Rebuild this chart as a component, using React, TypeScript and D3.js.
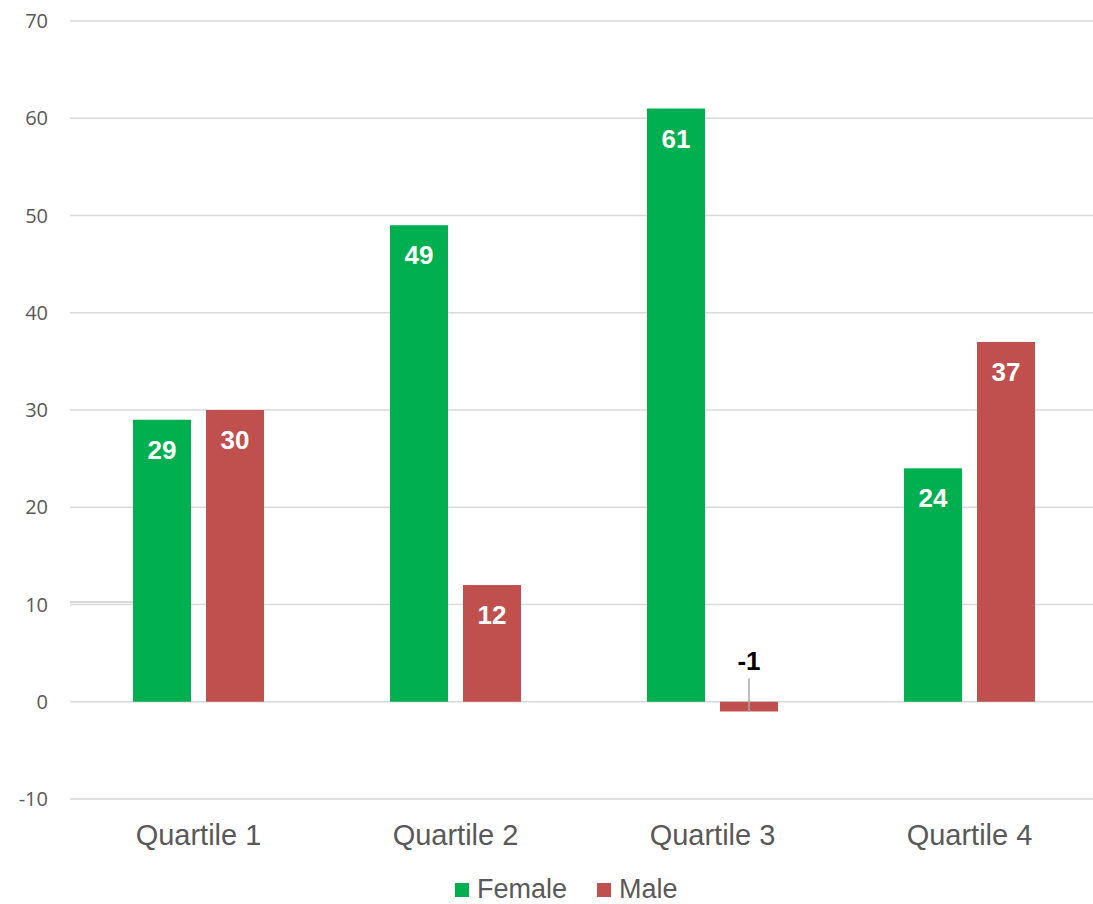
import * as d3 from "d3";
import React, { useEffect, useRef } from "react";

const categories = ["Quartile 1", "Quartile 2", "Quartile 3", "Quartile 4"];
const seriesNames = ["Female", "Male"];
const femaleValues = [29, 49, 61, 24];
const maleValues = [30, 12, -1, 37];
const yTicks = [-10, 0, 10, 20, 30, 40, 50, 60, 70];
const colors = ["#00b050", "#c0504d"];

export default function App() {
  const ref = useRef<SVGSVGElement | null>(null);

  useEffect(() => {
    if (!ref.current) return;
    const width = 1093;
    const svg = d3.select(ref.current);
    svg.selectAll("*").remove();

    const x = d3.scaleBand<string>().domain(categories).range([70, 1098]).padding(0);
    const inner = d3.scaleBand<string>()
      .domain(seriesNames)
      .range([-65.5, 65.5])
      .paddingInner(15 / 73)
      .paddingOuter(0);
    const y = d3.scaleLinear().domain([-10, 70]).range([799, 21]);

    // gridlines
    svg.append("g")
      .selectAll("line")
      .data(yTicks)
      .join("line")
      .attr("x1", 70)
      .attr("x2", width)
      .attr("y1", d => y(d))
      .attr("y2", d => y(d))
      .attr("stroke", "#d9d9d9")
      .attr("stroke-width", 1.5);

    // stray short segment near 10
    svg.append("line")
      .attr("x1", 70).attr("x2", 142)
      .attr("y1", y(10.25)).attr("y2", y(10.25))
      .attr("stroke", "#d9d9d9")
      .attr("stroke-width", 2);

    // y tick labels
    svg.append("g")
      .selectAll("text")
      .data(yTicks)
      .join("text")
      .attr("x", 48)
      .attr("y", d => y(d))
      .attr("dy", "0.36em")
      .attr("text-anchor", "end")
      .attr("fill", "#595959")
      .style("font-family", "'Open Sans', sans-serif")
      .style("font-size", "20px")
      .text(d => d);

    const data = categories.flatMap((c, i) => [
      { cat: c, series: "Female", value: femaleValues[i], color: colors[0] },
      { cat: c, series: "Male", value: maleValues[i], color: colors[1] },
    ]);
    const cx = (d: { cat: string; series: string }) =>
      (x(d.cat) ?? 0) + x.bandwidth() / 2 + (inner(d.series) ?? 0);

    svg.append("g")
      .selectAll("rect")
      .data(data)
      .join("rect")
      .attr("x", d => cx(d))
      .attr("width", inner.bandwidth())
      .attr("y", d => y(Math.max(0, d.value)))
      .attr("height", d => Math.abs(y(d.value) - y(0)))
      .attr("fill", d => d.color);

    // labels
    const pos = data.filter(d => d.value >= 0);
    svg.append("g")
      .selectAll("text")
      .data(pos)
      .join("text")
      .attr("x", d => cx(d) + inner.bandwidth() / 2)
      .attr("y", d => y(d.value) + 39)
      .attr("text-anchor", "middle")
      .attr("fill", "#ffffff")
      .style("font-family", "'Liberation Sans', Arial, sans-serif")
      .style("font-weight", "bold")
      .style("font-size", "26px")
      .text(d => d.value);

    const neg = data.filter(d => d.value < 0);
    neg.forEach(d => {
      const mx = cx(d) + inner.bandwidth() / 2;
      svg.append("line")
        .attr("x1", mx).attr("x2", mx)
        .attr("y1", y(2.4)).attr("y2", y(d.value))
        .attr("stroke", "#a6a6a6")
        .attr("stroke-width", 1.5);
      svg.append("text")
        .attr("x", mx)
        .attr("y", y(3.3))
        .attr("text-anchor", "middle")
        .attr("fill", "#000000")
        .style("font-family", "'Liberation Sans', Arial, sans-serif")
        .style("font-weight", "bold")
        .style("font-size", "26px")
        .text(d.value);
    });

    // category labels
    svg.append("g")
      .selectAll("text")
      .data(categories)
      .join("text")
      .attr("x", d => (x(d) ?? 0) + x.bandwidth() / 2)
      .attr("y", 845)
      .attr("text-anchor", "middle")
      .attr("fill", "#595959")
      .style("font-family", "'Liberation Sans', Arial, sans-serif")
      .style("font-size", "29px")
      .text(d => d);

    // legend
    const legendX = [455, 597];
    const legend = svg.append("g")
      .selectAll("g")
      .data(seriesNames)
      .join("g")
      .attr("transform", (_, i) => `translate(${legendX[i]}, 883)`);
    legend.append("rect")
      .attr("width", 14)
      .attr("height", 14)
      .attr("fill", (_, i) => colors[i]);
    legend.append("text")
      .attr("x", 22)
      .attr("y", 15)
      .attr("fill", "#595959")
      .style("font-family", "'Liberation Sans', Arial, sans-serif")
      .style("font-size", "27px")
      .text(d => d);
  }, []);

  return (
    <svg
      ref={ref}
      width={1093}
      height={904}
      style={{ position: "absolute", left: 0, top: 0, background: "#fff" }}
    />
  );
}
